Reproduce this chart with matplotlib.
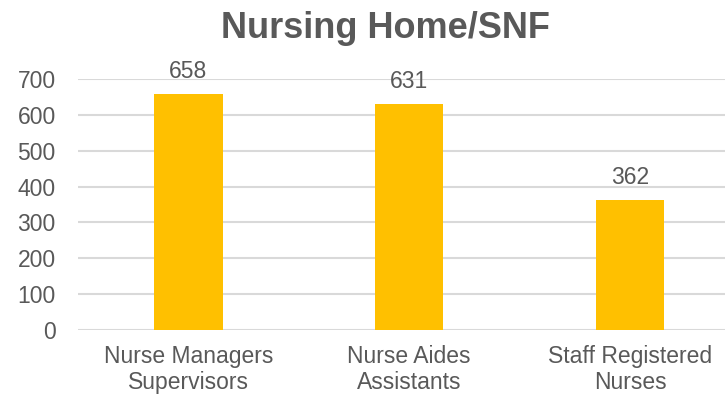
import matplotlib.pyplot as plt
import numpy as np

categories = ['Nurse Managers\nSupervisors', 'Nurse Aides\nAssistants', 'Staff Registered\nNurses']
values = [658, 631, 362]
yticks = [0, 100, 200, 300, 400, 500, 600, 700]

plt.rcParams['font.family'] = ['Liberation Sans', 'DejaVu Sans']
grey = '#595959'

fig = plt.figure(figsize=(7.25, 4), dpi=100)
ax = fig.add_axes([0.1076, 0.175, 0.8924, 0.6275])

x = np.arange(len(categories))
bars = ax.bar(x, values, width=0.31, color='#FFC000', zorder=3)
for b, v in zip(bars, values):
    ax.text(b.get_x() + b.get_width() / 2, v + 30, str(v), ha='center', va='bottom',
            fontsize=16.5, color=grey)

ax.set_xlim(-0.5, 2.43)
ax.set_ylim(0, 700)
ax.set_yticks(yticks)
ax.set_xticks(x)
ax.set_xticklabels(categories, fontsize=16.5, color=grey, linespacing=1.15)
ax.tick_params(axis='y', labelsize=16.5, labelcolor=grey, length=0, pad=16)
ax.tick_params(axis='x', length=0, pad=11)
ax.grid(axis='y', color='#D9D9D9', linewidth=1.5, zorder=0)
for s in ax.spines.values():
    s.set_visible(False)

fig.text(0.532, 0.93, 'Nursing Home/SNF', ha='center', va='center', fontsize=26,
         fontweight='bold', color=grey)

fig.savefig('out.png', dpi=100)
